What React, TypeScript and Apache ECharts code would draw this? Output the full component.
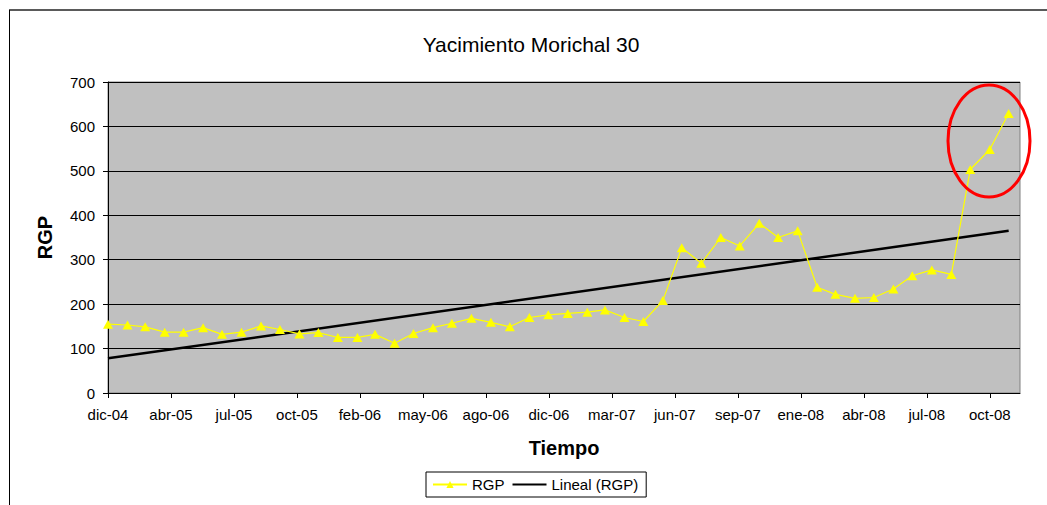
import React, { useEffect, useRef } from "react";
import * as echarts from "echarts";

// Month-end dates of each RGP reading
const dates = [
  "2004-12-31", "2005-01-31", "2005-02-28", "2005-03-31", "2005-04-30", "2005-05-31",
  "2005-06-30", "2005-07-31", "2005-08-31", "2005-09-30", "2005-10-31", "2005-11-30",
  "2005-12-31", "2006-01-31", "2006-02-28", "2006-03-31", "2006-04-30", "2006-05-31",
  "2006-06-30", "2006-07-31", "2006-08-31", "2006-09-30", "2006-10-31", "2006-11-30",
  "2006-12-31", "2007-01-31", "2007-02-28", "2007-03-31", "2007-04-30", "2007-05-31",
  "2007-06-30", "2007-07-31", "2007-08-31", "2007-09-30", "2007-10-31", "2007-11-30",
  "2007-12-31", "2008-01-31", "2008-02-29", "2008-03-31", "2008-04-30", "2008-05-31",
  "2008-06-30", "2008-07-31", "2008-08-31", "2008-09-30", "2008-10-31", "2008-11-30",
];

const rgp = [
  155, 153, 149, 137, 137, 147, 132, 137, 151, 143, 133, 136,
  125, 125, 132, 112, 134, 147, 157, 168, 159, 149, 170, 176,
  179, 182, 187, 170, 161, 208, 327, 292, 350, 331, 382, 350,
  365, 238, 222, 213, 215, 234, 264, 277, 267, 503, 548, 629,
];

// Linear trend ("Lineal (RGP)") read at the first and last dates
const trendDates = ["2004-12-31", "2008-11-30"];
const trendValues = [78, 365];

// X axis tick positions (days after axis origin) and their labels
const axisOrigin = "2004-12-31";
const xTickDays = [0, 100, 200, 300, 400, 500, 600, 700, 800, 900, 1000, 1100, 1200, 1300, 1400];
const xTickLabels = [
  "dic-04", "abr-05", "jul-05", "oct-05", "feb-06", "may-06", "ago-06", "dic-06",
  "mar-07", "jun-07", "sep-07", "ene-08", "abr-08", "jul-08", "oct-08",
];
const xMaxDays = 1448;

const yTicks = [0, 100, 200, 300, 400, 500, 600, 700];

const dayOf = (d: string) =>
  Math.round((Date.parse(d + "T00:00:00Z") - Date.parse(axisOrigin + "T00:00:00Z")) / 86400000);

const FONT = 'Arial, "Liberation Sans", sans-serif';

export default function App() {
  const ref = useRef<HTMLDivElement>(null);

  useEffect(() => {
    if (!ref.current) return;
    const chart = echarts.init(ref.current, undefined, { renderer: "svg" });
    const rgpData = dates.map((d, i) => [dayOf(d), rgp[i]]);
    const trendData = trendDates.map((d, i) => [dayOf(d), trendValues[i]]);

    chart.setOption({
      animation: false,
      backgroundColor: "#ffffff",
      textStyle: { fontFamily: FONT },
      grid: {
        left: 108,
        top: 82,
        right: 27,
        bottom: 112,
        show: true,
        backgroundColor: "#C0C0C0",
        borderColor: "#808080",
        borderWidth: 1,
      },
      legend: {
        left: 426,
        top: 472,
        orient: "horizontal",
        padding: [5, 8, 5, 6],
        itemGap: 7,
        itemWidth: 34,
        itemHeight: 9,
        borderColor: "#000000",
        borderWidth: 1,
        borderRadius: 0,
        textStyle: { fontSize: 15, color: "#000", fontFamily: FONT },
        data: [
          { name: "RGP" },
          { name: "Lineal (RGP)", itemStyle: { color: "rgba(0,0,0,0)", borderWidth: 0 } },
        ],
      },
      xAxis: {
        type: "value",
        min: 0,
        max: xMaxDays,
        interval: 100,
        name: "Tiempo",
        nameLocation: "middle",
        nameGap: 45,
        nameTextStyle: { fontSize: 20, fontWeight: "bold", color: "#000", fontFamily: FONT },
        axisLine: { show: true, lineStyle: { color: "#000", width: 1 } },
        axisTick: { show: true, inside: false, length: 5, lineStyle: { color: "#000" }, customValues: xTickDays },
        axisLabel: {
          show: true,
          margin: 14,
          fontSize: 15,
          color: "#000",
          fontFamily: FONT,
          customValues: xTickDays,
          formatter: (v: number) => {
            const i = xTickDays.indexOf(Math.round(v));
            return i >= 0 ? xTickLabels[i] : "";
          },
        },
        splitLine: { show: false },
      },
      yAxis: {
        type: "value",
        min: 0,
        max: 700,
        interval: 100,
        name: "RGP",
        nameLocation: "middle",
        nameGap: 53,
        nameRotate: 90,
        nameTextStyle: { fontSize: 20, fontWeight: "bold", color: "#000", fontFamily: FONT },
        axisLine: { show: true, lineStyle: { color: "#000", width: 1 } },
        axisTick: { show: true, inside: false, length: 5, lineStyle: { color: "#000" } },
        axisLabel: {
          margin: 13,
          fontSize: 15,
          color: "#000",
          fontFamily: FONT,
          formatter: (v: number) => (yTicks.indexOf(v) >= 0 ? String(v) : ""),
        },
        splitLine: { show: true, lineStyle: { color: "#000", width: 1.2 } },
      },
      series: [
        {
          name: "RGP",
          type: "line",
          data: rgpData,
          symbol: "triangle",
          symbolSize: [10, 9],
          lineStyle: { color: "#FFFF00", width: 1.2 },
          itemStyle: { color: "#FFFF00", borderWidth: 0 },
          z: 3,
        },
        {
          name: "Lineal (RGP)",
          type: "line",
          data: trendData,
          symbol: "none",
          lineStyle: { color: "#000000", width: 2.5 },
          itemStyle: { color: "#000000" },
          z: 2,
        },
      ],
      graphic: [
        {
          type: "line",
          shape: { x1: 9, y1: 10, x2: 1047, y2: 10 },
          style: { stroke: "#5a5a5a", lineWidth: 2 },
          silent: true,
        },
        {
          type: "line",
          shape: { x1: 9.5, y1: 10, x2: 9.5, y2: 505 },
          style: { stroke: "#000", lineWidth: 1 },
          silent: true,
        },
        {
          type: "text",
          x: 531,
          y: 44,
          style: {
            text: "Yacimiento Morichal 30",
            fontSize: 21,
            fontFamily: FONT,
            fontWeight: "normal",
            fill: "#000",
            textAlign: "center",
            textVerticalAlign: "middle",
          },
        },
        {
          type: "ellipse",
          shape: { cx: 989, cy: 141, rx: 41, ry: 56 },
          style: { fill: "none", stroke: "#FF0000", lineWidth: 3 },
          z: 10,
          silent: true,
        },
      ],
    });

    return () => chart.dispose();
  }, []);

  return (
    <div
      ref={ref}
      style={{ position: "fixed", left: 0, top: 0, width: 1047, height: 505 }}
    />
  );
}
